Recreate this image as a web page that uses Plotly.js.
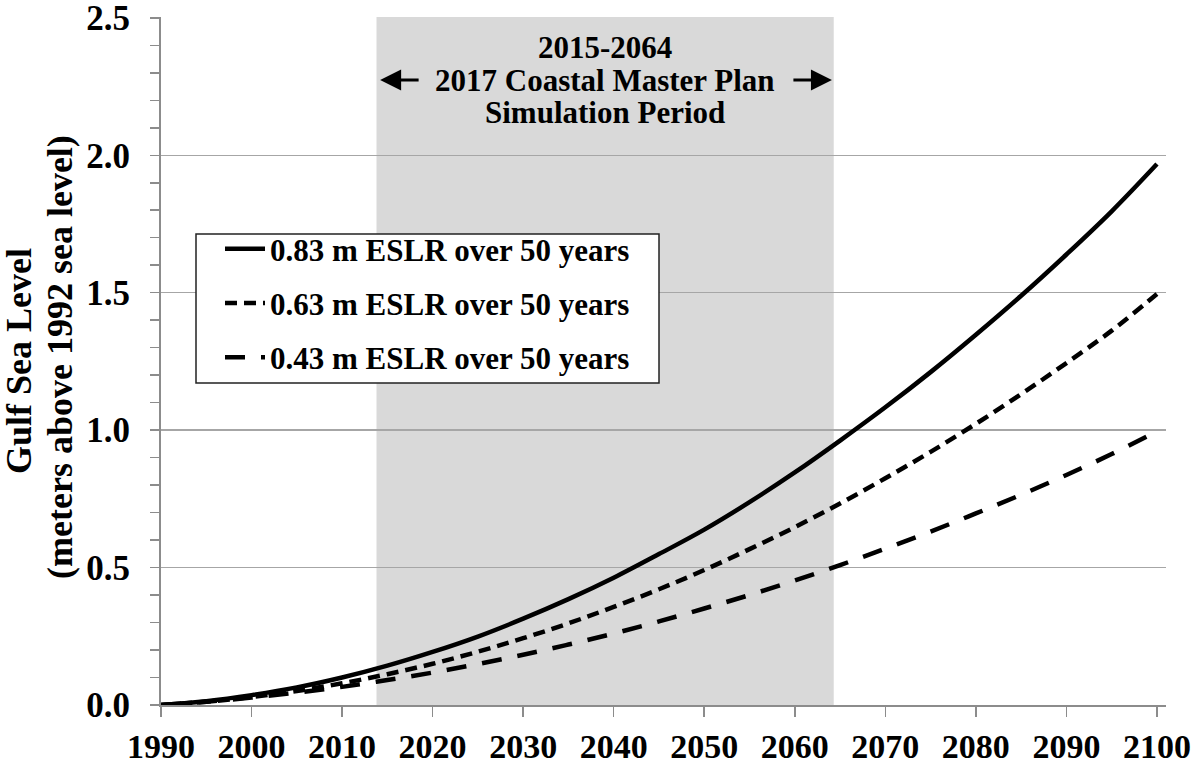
<!DOCTYPE html>
<html>
<head>
<meta charset="utf-8">
<script src="https://cdn.plot.ly/plotly-3.0.1.min.js"></script>
<style>html,body{margin:0;padding:0;background:#fff;}#chart{width:1200px;height:764px;}</style>
</head>
<body>
<div id="chart"></div>
<script>
// ---- data ----
const years = [1990,1995,2000,2005,2010,2015,2020,2025,2030,2035,2040,2045,2050,2055,2060,2065,2070,2075,2080,2085,2090,2095,2100];
const eslr083 = [0,0.014,0.036,0.064,0.100,0.143,0.193,0.249,0.314,0.385,0.463,0.549,0.638,0.738,0.846,0.962,1.083,1.211,1.347,1.489,1.639,1.796,1.968];
const eslr063 = [0,0.012,0.029,0.051,0.079,0.112,0.150,0.194,0.243,0.297,0.357,0.421,0.491,0.567,0.647,0.733,0.825,0.921,1.023,1.131,1.244,1.362,1.495];
const eslr043 = [0,0.012,0.027,0.045,0.066,0.091,0.118,0.149,0.183,0.220,0.260,0.304,0.351,0.400,0.453,0.509,0.569,0.631,0.697,0.765,0.837,0.913,0.995];
const seriesNames = ["0.83 m ESLR over 50 years","0.63 m ESLR over 50 years","0.43 m ESLR over 50 years"];
const periodStart = 2013.8, periodEnd = 2064.3;
const periodLines = ["2015-2064","2017 Coastal Master Plan","Simulation Period"];
const yTitleLines = ["Gulf Sea Level","(meters above 1992 sea level)"];

const FONT = "Liberation Serif, Times New Roman, serif";
const mk = (y, name, dash, grp) => ({
  x: years, y: y, name: name, type: "scatter", mode: "lines",
  legendgroup: grp,
  line: {color: "#000", width: 4.5, dash: dash, shape: "spline"},
  hoverinfo: "skip"
});
const data = [
  mk(eslr083, seriesNames[0], "solid", "a"),
  mk(eslr063, seriesNames[1], "12px,7px", "b"),
  mk(eslr043, seriesNames[2], "20px,16px", "c")
];

// pixel helpers for paper positioning (plot area: l=161, t=17, w=1005, h=688)
const L = 161, T = 17, W = 1005, H = 688;
const px = v => (v - L) / W;
const py = v => (T + H - v) / H;

const bold = (size) => ({family: FONT, size: size, color: "#000", weight: "bold"});
const annotations = [
  {text: periodLines[0], x: (periodStart+periodEnd)/2, xref: "x", y: py(48), yref: "paper", showarrow: false, xanchor: "center", yanchor: "middle", font: bold(31)},
  {text: periodLines[1], x: (periodStart+periodEnd)/2, xref: "x", y: py(80), yref: "paper", showarrow: false, xanchor: "center", yanchor: "middle", font: bold(31)},
  {text: periodLines[2], x: (periodStart+periodEnd)/2, xref: "x", y: py(112), yref: "paper", showarrow: false, xanchor: "center", yanchor: "middle", font: bold(31)},
  {text: "", x: 2014.2, xref: "x", y: py(80), yref: "paper", showarrow: true, ax: 40, ay: 0, axref: "pixel", ayref: "pixel", arrowhead: 2, arrowsize: 1.5, arrowwidth: 2.8, arrowcolor: "#000"},
  {text: "", x: 2064.1, xref: "x", y: py(80), yref: "paper", showarrow: true, ax: -40, ay: 0, axref: "pixel", ayref: "pixel", arrowhead: 2, arrowsize: 1.5, arrowwidth: 2.8, arrowcolor: "#000"},
  {text: yTitleLines[0], textangle: -90, x: px(19), xref: "paper", y: py(361), yref: "paper", showarrow: false, xanchor: "center", yanchor: "middle", font: bold(36)},
  {text: yTitleLines[1], textangle: -90, x: px(60), xref: "paper", y: py(357), yref: "paper", showarrow: false, xanchor: "center", yanchor: "middle", font: bold(36)}
];

const shapes = [
  {type: "rect", xref: "x", yref: "paper", x0: periodStart, x1: periodEnd, y0: 0, y1: 1, fillcolor: "#d9d9d9", line: {width: 0}, layer: "below"},
  {type: "rect", xref: "paper", yref: "paper", x0: px(196), x1: px(659), y0: py(383), y1: py(234), fillcolor: "#fff", line: {color: "#222", width: 1.5}, layer: "above"}
];

const layout = {
  width: 1200, height: 764,
  margin: {l: L, r: 1200 - L - W, t: T, b: 764 - T - H},
  paper_bgcolor: "#fff", plot_bgcolor: "rgba(0,0,0,0)",
  font: bold(34),
  showlegend: true,
  legend: {
    x: px(220), y: py(222), xanchor: "left", yanchor: "top",
    bgcolor: "rgba(0,0,0,0)", borderwidth: 0,
    font: bold(31),
    traceorder: "grouped", tracegroupgap: 11, itemwidth: 40
  },
  xaxis: {
    range: [1990, 2101], tick0: 1990, dtick: 10, tickmode: "linear",
    showgrid: false, zeroline: false,
    showline: true, linecolor: "#8c8c8c", linewidth: 2,
    ticks: "outside", ticklen: 10, tickwidth: 1.5, tickcolor: "#8c8c8c",
    ticklabeloverflow: "allow",
    tickfont: bold(34)
  },
  yaxis: {
    range: [0, 2.503], tick0: 0, dtick: 0.5, tickmode: "linear", tickformat: ".1f",
    showgrid: true, gridcolor: "#a6a6a6", gridwidth: 1.5,
    zeroline: false,
    showline: true, linecolor: "#8c8c8c", linewidth: 2,
    ticks: "outside", ticklen: 9, tickwidth: 1.5, tickcolor: "#8c8c8c",
    minor: {dtick: 0.1, ticks: "outside", ticklen: 9, tickwidth: 1.5, tickcolor: "#8c8c8c", showgrid: false},
    ticklabelstandoff: 13,
    ticklabeloverflow: "allow",
    tickfont: bold(35)
  },
  shapes: shapes,
  annotations: annotations
};

Plotly.newPlot("chart", data, layout, {displayModeBar: false, staticPlot: true});
</script>
</body>
</html>
